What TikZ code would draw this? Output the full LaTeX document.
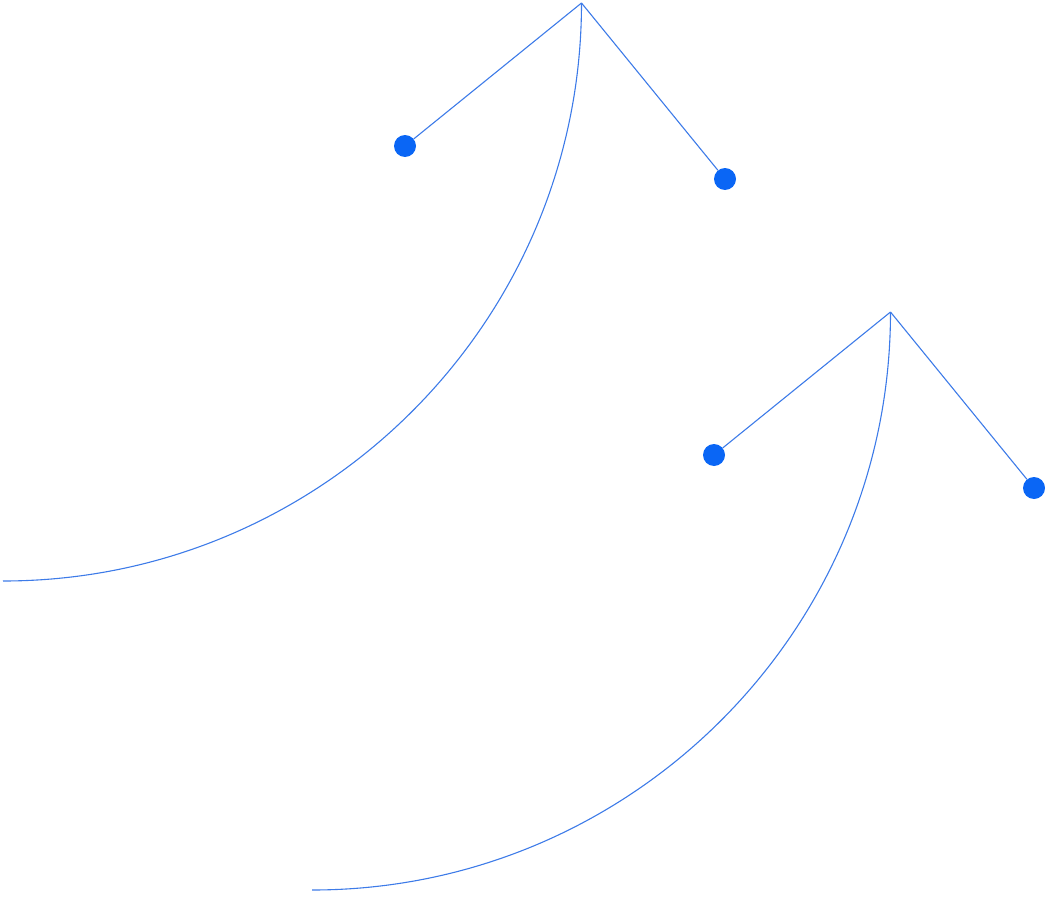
\documentclass[tikz,border=0pt]{standalone}
\definecolor{linec}{HTML}{3D7BE8}
\definecolor{dotc}{HTML}{0A66F5}
\tikzset{
  link/.style={draw=linec, line width=1.1pt},
  dotnode/.style={circle, fill=dotc, inner sep=0pt, minimum size=22pt},
}
\begin{document}
\begin{tikzpicture}[x=1pt,y=-1pt]
\useasboundingbox (0,0) rectangle (1045,899);
\foreach \dx/\n in {0/a,309/b}{
  \begin{scope}[shift={(\dx,\dx)}]
    \coordinate (apex\n) at (581.5,3);
    \coordinate (end\n) at (3,581);
    \node[dotnode] (left\n) at (405,146) {};
    \node[dotnode] (right\n) at (725,179) {};
    \draw[link] (apex\n) -- (left\n);
    \draw[link] (apex\n) -- (right\n);
    \draw[link] (apex\n) .. controls (581.5,322) and (322,581) .. (end\n);
  \end{scope}
}
\end{tikzpicture}
\end{document}
